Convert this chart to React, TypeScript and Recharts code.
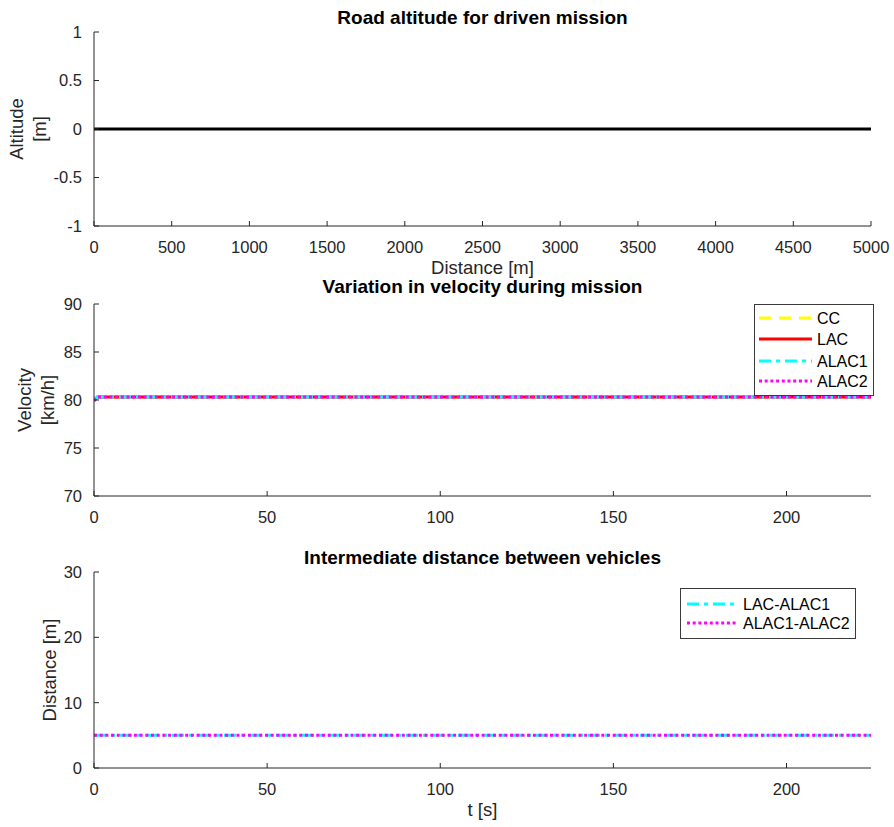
import { LineChart, Line, XAxis, YAxis } from 'recharts';

// ── data ────────────────────────────────────────────────────
const altDist = [0, 5000];
const altitude = [0, 0];
const distTicks = [0, 500, 1000, 1500, 2000, 2500, 3000, 3500, 4000, 4500, 5000];
const altTicks = [-1, -0.5, 0, 0.5, 1];

const tVel = [0, 1, 50, 100, 150, 200, 224.4];
const velCC = [80.0, 80.3, 80.3, 80.3, 80.3, 80.3, 80.3];
const velLAC = [80.0, 80.3, 80.3, 80.3, 80.3, 80.3, 80.3];
const velALAC1 = [80.0, 80.3, 80.3, 80.3, 80.3, 80.3, 80.3];
const velALAC2 = [79.9, 80.3, 80.3, 80.3, 80.3, 80.3, 80.3];
const velTicks = [70, 75, 80, 85, 90];

const tGap = [0, 224.4];
const gapLacAlac1 = [5, 5];
const gapAlac1Alac2 = [5, 5];
const gapTicks = [0, 10, 20, 30];
const timeTicks = [0, 50, 100, 150, 200];

const T_MAX = 224.4;

const altRows = altDist.map((d, i) => ({ d, alt: altitude[i] }));
const velRows = tVel.map((t, i) => ({
  t, cc: velCC[i], lac: velLAC[i], alac1: velALAC1[i], alac2: velALAC2[i],
}));
const gapRows = tGap.map((t, i) => ({ t, g1: gapLacAlac1[i], g2: gapAlac1Alac2[i] }));

// ── styles ───────────────────────────────────────────────────
const FONT = '"Liberation Sans", Arial, Helvetica, sans-serif';
const AX = '#262626';
const tickStyle = { fontSize: 16.5, fill: AX, fontFamily: FONT };

const SERIES = {
  cc: { name: 'CC', color: '#FFFF00', dash: '12 8' },
  lac: { name: 'LAC', color: '#FF0000', dash: undefined as string | undefined },
  alac1: { name: 'ALAC1', color: '#00FFFF', dash: '12 5 4 5' },
  alac2: { name: 'ALAC2', color: '#FF00FF', dash: '3 2.7' },
};

const W = 894;
const LEFT = 94;
const RIGHT = 871;
const YW = 60;

function xAxisProps() {
  return {
    type: 'number' as const,
    height: 30,
    tickSize: -5,
    tickMargin: 20,
    tick: tickStyle,
    axisLine: { stroke: AX, strokeWidth: 1 },
    tickLine: { stroke: AX, strokeWidth: 1 },
    interval: 0 as const,
    allowDataOverflow: true,
  };
}

function yAxisProps() {
  return {
    type: 'number' as const,
    width: YW,
    tickSize: -5,
    tickMargin: 17,
    tick: tickStyle,
    axisLine: { stroke: AX, strokeWidth: 1 },
    tickLine: { stroke: AX, strokeWidth: 1 },
    interval: 0 as const,
    allowDataOverflow: true,
  };
}

function YLabel({ x, cy, lines, gap = 23 }: { x: number; cy: number; lines: string[]; gap?: number }) {
  return (
    <>
      {lines.map((s, i) => (
        <text
          key={i}
          transform={`translate(${x + i * gap}, ${cy}) rotate(-90)`}
          textAnchor="middle"
          fontSize={18.5}
          fill={AX}
          fontFamily={FONT}
        >
          {s}
        </text>
      ))}
    </>
  );
}

function LegendBox({
  x, y, w, h, rows, rowY, lineX1, lineX2, textX,
}: {
  x: number; y: number; w: number; h: number;
  rows: { name: string; color: string; dash?: string }[];
  rowY: number[]; lineX1: number; lineX2: number; textX: number;
}) {
  return (
    <g>
      <rect x={x + 0.5} y={y + 0.5} width={w} height={h} fill="#fff" stroke="#3a3a3a" strokeWidth={1} />
      {rows.map((r, i) => (
        <g key={r.name}>
          <line x1={lineX1} x2={lineX2} y1={rowY[i]} y2={rowY[i]} stroke={r.color} strokeWidth={3} strokeDasharray={r.dash} />
          <text x={textX} y={rowY[i] + 6} fontSize={16} fill="#000" fontFamily={FONT}>{r.name}</text>
        </g>
      ))}
    </g>
  );
}

export default function App() {
  const midX = (LEFT + RIGHT) / 2;
  return (
    <div style={{ position: 'absolute', left: 0, top: 0, width: W, height: 827, background: '#fff', fontFamily: FONT }}>
      {/* Road altitude */}
      <div style={{ position: 'absolute', left: 0, top: 0 }}>
        <LineChart width={W} height={256} data={altRows} margin={{ top: 32, right: W - RIGHT, bottom: 0, left: LEFT - YW }}>
          <XAxis dataKey="d" domain={[0, 5000]} ticks={distTicks} {...xAxisProps()} />
          <YAxis domain={[-1, 1]} ticks={altTicks} {...yAxisProps()} />
          <Line dataKey="alt" stroke="#000" strokeWidth={3} dot={false} isAnimationActive={false} />
        </LineChart>
      </div>

      {/* Velocity */}
      <div style={{ position: 'absolute', left: 0, top: 280 }}>
        <LineChart width={W} height={246} data={velRows} margin={{ top: 24, right: W - RIGHT, bottom: 0, left: LEFT - YW }}>
          <XAxis dataKey="t" domain={[0, T_MAX]} ticks={timeTicks} {...xAxisProps()} />
          <YAxis domain={[70, 90]} ticks={velTicks} {...yAxisProps()} />
          {(['cc', 'lac', 'alac1', 'alac2'] as const).map((k) => (
            <Line
              key={k}
              dataKey={k}
              name={SERIES[k].name}
              stroke={SERIES[k].color}
              strokeWidth={3}
              strokeDasharray={SERIES[k].dash}
              dot={false}
              isAnimationActive={false}
            />
          ))}
        </LineChart>
      </div>

      {/* Gap distance */}
      <div style={{ position: 'absolute', left: 0, top: 550 }}>
        <LineChart width={W} height={248} data={gapRows} margin={{ top: 22, right: W - RIGHT, bottom: 0, left: LEFT - YW }}>
          <XAxis dataKey="t" domain={[0, T_MAX]} ticks={timeTicks} {...xAxisProps()} />
          <YAxis domain={[0, 30]} ticks={gapTicks} {...yAxisProps()} />
          <Line dataKey="g1" name="LAC-ALAC1" stroke={SERIES.alac1.color} strokeWidth={3} strokeDasharray={SERIES.alac1.dash} dot={false} isAnimationActive={false} />
          <Line dataKey="g2" name="ALAC1-ALAC2" stroke={SERIES.alac2.color} strokeWidth={3} strokeDasharray={SERIES.alac2.dash} dot={false} isAnimationActive={false} />
        </LineChart>
      </div>

      {/* titles, labels, legends */}
      <svg width={W} height={827} style={{ position: 'absolute', left: 0, top: 0, pointerEvents: 'none' }}>
        <text x={midX} y={24} textAnchor="middle" fontSize={19} fontWeight="bold" fill="#000" fontFamily={FONT}>Road altitude for driven mission</text>
        <text x={midX} y={293} textAnchor="middle" fontSize={19} fontWeight="bold" fill="#000" fontFamily={FONT}>Variation in velocity during mission</text>
        <text x={midX} y={564} textAnchor="middle" fontSize={19} fontWeight="bold" fill="#000" fontFamily={FONT}>Intermediate distance between vehicles</text>

        <text x={midX} y={274} textAnchor="middle" fontSize={18.5} fill={AX} fontFamily={FONT}>Distance [m]</text>
        <text x={midX} y={816} textAnchor="middle" fontSize={18.5} fill={AX} fontFamily={FONT}>t [s]</text>

        <YLabel x={23} cy={129} lines={['Altitude', '[m]']} />
        <YLabel x={31} cy={400} lines={['Velocity', '[km/h]']} />
        <YLabel x={56} cy={670} lines={['Distance [m]']} />

        <LegendBox
          x={754} y={304} w={119} h={91}
          rows={[SERIES.cc, SERIES.lac, SERIES.alac1, SERIES.alac2]}
          rowY={[318, 339, 361, 381]}
          lineX1={759} lineX2={812} textX={817}
        />
        <LegendBox
          x={680} y={588} w={175} h={50}
          rows={[
            { name: 'LAC-ALAC1', color: SERIES.alac1.color, dash: SERIES.alac1.dash },
            { name: 'ALAC1-ALAC2', color: SERIES.alac2.color, dash: SERIES.alac2.dash },
          ]}
          rowY={[604, 623]}
          lineX1={687} lineX2={738} textX={743}
        />
      </svg>
    </div>
  );
}
